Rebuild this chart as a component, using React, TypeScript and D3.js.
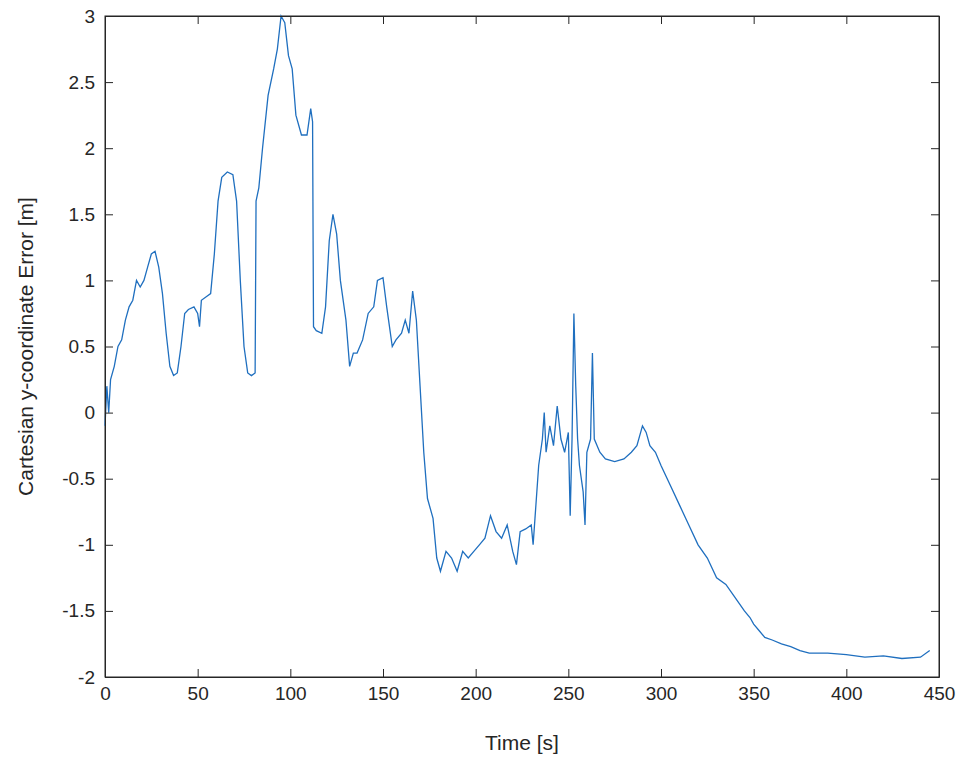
import { useEffect, useRef } from "react";
import * as d3 from "d3";

const times = [0,1,2,3,5,7,9,11,13,15,17,19,21,23,25,27,29,31,33,35,37,39,41,43,45,48,50,51,52,55,57,59,61,63,66,69,71,73,75,77,79,81,81.5,83,85,88,91,93,95,97,99,101,103,106,109,111,112,112.5,114,117,119,121,123,125,127,130,132,134,136,139,142,145,147,150,152,155,157,160,162,164,166,168,170,172,174,177,179,181,184,187,190,193,196,199,202,205,208,211,214,217,220,222,224,227,230,231,232,234,236,237,238,240,242,244,246,248,250,251,252,253,254,255,256,258,259,260,262,263,264,267,270,275,280,284,287,290,292,294,297,300,305,310,315,320,325,330,335,340,345,348,350,353,356,360,365,370,375,380,390,400,410,420,430,440,445];
const errors = [-0.1,0.2,0.0,0.25,0.35,0.5,0.55,0.7,0.8,0.85,1.0,0.95,1.0,1.1,1.2,1.22,1.1,0.9,0.6,0.35,0.28,0.3,0.5,0.75,0.78,0.8,0.75,0.65,0.85,0.88,0.9,1.2,1.6,1.78,1.82,1.8,1.6,1.0,0.5,0.3,0.28,0.3,1.6,1.7,2.0,2.4,2.6,2.75,3.0,2.95,2.7,2.6,2.25,2.1,2.1,2.3,2.2,0.65,0.62,0.6,0.8,1.3,1.5,1.35,1.0,0.7,0.35,0.45,0.45,0.55,0.75,0.8,1.0,1.02,0.8,0.5,0.55,0.6,0.7,0.6,0.92,0.7,0.2,-0.3,-0.65,-0.8,-1.1,-1.2,-1.05,-1.1,-1.2,-1.05,-1.1,-1.05,-1.0,-0.95,-0.78,-0.9,-0.95,-0.85,-1.05,-1.15,-0.9,-0.88,-0.85,-1.0,-0.8,-0.4,-0.2,0.0,-0.3,-0.1,-0.25,0.05,-0.2,-0.3,-0.15,-0.78,-0.2,0.75,0.2,-0.2,-0.4,-0.6,-0.85,-0.3,-0.2,0.45,-0.2,-0.3,-0.35,-0.37,-0.35,-0.3,-0.25,-0.1,-0.15,-0.25,-0.3,-0.4,-0.55,-0.7,-0.85,-1.0,-1.1,-1.25,-1.3,-1.4,-1.5,-1.55,-1.6,-1.65,-1.7,-1.72,-1.75,-1.77,-1.8,-1.82,-1.82,-1.83,-1.85,-1.84,-1.86,-1.85,-1.8];
const xTicks = [0,50,100,150,200,250,300,350,400,450];
const yTicks = [-2,-1.5,-1,-0.5,0,0.5,1,1.5,2,2.5,3];

export default function App() {
  const ref = useRef<SVGSVGElement>(null);

  useEffect(() => {
    if (!ref.current) return;
    const svg = d3.select(ref.current);
    svg.selectAll("*").remove();

    const left = 105, right = 939, top = 16, bottom = 677;
    const x = d3.scaleLinear().domain([0, 450]).range([left, right]);
    const y = d3.scaleLinear().domain([-2, 3]).range([bottom, top]);
    const font = "'Liberation Sans', Arial, sans-serif";

    svg.append("rect").attr("x", left).attr("y", top).attr("width", right - left).attr("height", bottom - top)
      .attr("fill", "white").attr("stroke", "#262626").attr("stroke-width", 1);

    const data = times.map((t, i) => [t, errors[i]] as [number, number]);
    svg.append("path").datum(data)
      .attr("d", d3.line().x((d) => x(d[0])).y((d) => y(d[1])))
      .attr("fill", "none").attr("stroke", "#1f6fbf").attr("stroke-width", 1.3);

    const xa = svg.append("g").attr("transform", `translate(0,${bottom})`)
      .call(d3.axisBottom(x).tickValues(xTicks).tickSizeInner(-8).tickSizeOuter(0).tickPadding(10));
    const ya = svg.append("g").attr("transform", `translate(${left},0)`)
      .call(d3.axisLeft(y).tickValues(yTicks).tickFormat((d) => String(d)).tickSizeInner(-8).tickSizeOuter(0).tickPadding(10));
    // mirrored ticks on top/right
    svg.append("g").attr("transform", `translate(0,${top})`)
      .call(d3.axisTop(x).tickValues(xTicks).tickSizeInner(-8).tickSizeOuter(0).tickFormat(() => ""));
    svg.append("g").attr("transform", `translate(${right},0)`)
      .call(d3.axisRight(y).tickValues(yTicks).tickSizeInner(-8).tickSizeOuter(0).tickFormat(() => ""));
    svg.selectAll(".domain").attr("stroke", "#262626");
    svg.selectAll(".tick line").attr("stroke", "#262626");
    [xa, ya].forEach((a) => a.selectAll("text").style("font-size", "19px").style("font-family", font).attr("fill", "#262626"));

    svg.append("text").attr("x", (left + right) / 2).attr("y", 750).attr("text-anchor", "middle")
      .style("font-size", "21px").style("font-family", font).attr("fill", "#262626").text("Time [s]");
    svg.append("text").attr("transform", `translate(33,${(top + bottom) / 2}) rotate(-90)`).attr("text-anchor", "middle")
      .style("font-size", "21px").style("font-family", font).attr("fill", "#262626").text("Cartesian y-coordinate Error [m]");
  }, []);

  return <svg ref={ref} width={965} height={762} style={{ position: "absolute", left: 0, top: 0, background: "white" }} />;
}
